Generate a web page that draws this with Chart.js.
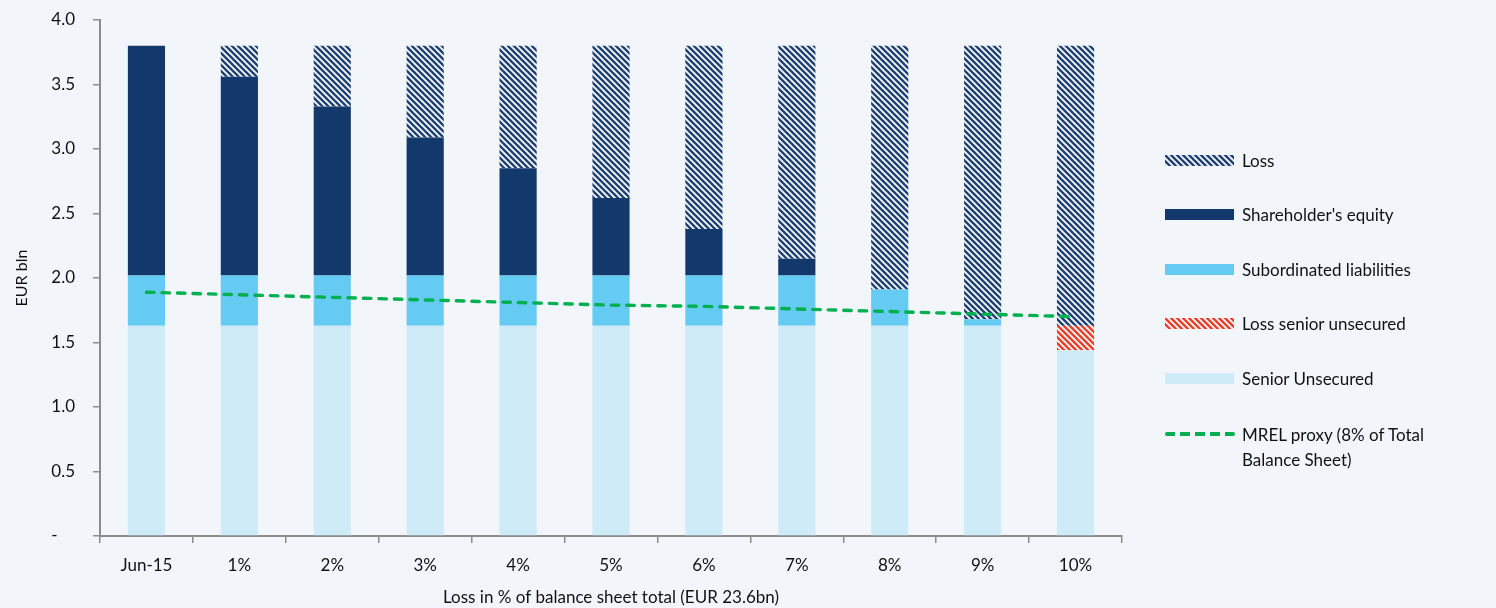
<!DOCTYPE html>
<html>
<head>
<meta charset="utf-8">
<script src="https://cdn.jsdelivr.net/npm/chart.js@4/dist/chart.umd.min.js"></script>
<style>
    html, body { margin: 0; padding: 0; background: #f2f6fa; }
    #wrap { position: relative; width: 1496px; height: 608px; }
    #legend { position: absolute; left: 1165px; top: 0; font-family: Lato, sans-serif; font-size: 17px; color: #111; }
    .item { position: absolute; left: 0; width: 330px; display: flex; align-items: center; }
    .swatch { width: 69px; height: 11px; margin-right: 8px; flex: none; }
    .dash { width: 70px; height: 3.5px; margin-right: 7px; flex: none;
            background: repeating-linear-gradient(90deg, #00b050 0 10px, transparent 10px 15px); border-radius: 2px; }
</style>
</head>
<body>
<div id="wrap">
    <canvas id="chart" width="1496" height="608"></canvas>
    <div id="legend"></div>
</div>
<script>
// data (EUR bln)
const categories = ['Jun-15', '1%', '2%', '3%', '4%', '5%', '6%', '7%', '8%', '9%', '10%'];
const seniorUnsecured = [1.63, 1.63, 1.63, 1.63, 1.63, 1.63, 1.63, 1.63, 1.63, 1.63, 1.44];
const lossSeniorUnsecured = [0, 0, 0, 0, 0, 0, 0, 0, 0, 0, 0.19];
const subordinated = [0.39, 0.39, 0.39, 0.39, 0.39, 0.39, 0.39, 0.39, 0.28, 0.05, 0];
const equity = [1.78, 1.54, 1.31, 1.07, 0.83, 0.60, 0.36, 0.13, 0, 0, 0];
const loss = [0, 0.24, 0.47, 0.71, 0.95, 1.18, 1.42, 1.65, 1.89, 2.12, 2.17];
const mrel = [1.89, 1.87, 1.85, 1.83, 1.81, 1.79, 1.78, 1.76, 1.74, 1.72, 1.70];

const yTicks = [0, 0.5, 1.0, 1.5, 2.0, 2.5, 3.0, 3.5, 4.0];

// hatch tile, stripes running top-left to bottom-right
function hatchCanvas(color) {
    const s = 6;
    const c = document.createElement('canvas');
    c.width = s; c.height = s;
    const g = c.getContext('2d');
    g.fillStyle = '#ffffff';
    g.fillRect(0, 0, s, s);
    g.strokeStyle = color;
    g.lineWidth = 2.5;
    for (const k of [-s, 0, s]) {
        g.beginPath();
        g.moveTo(k - 1, -1);
        g.lineTo(k + s + 1, s + 1);
        g.stroke();
    }
    return c;
}

const ctx = document.getElementById('chart').getContext('2d');
const lossTile = hatchCanvas('#1f4274');
const redTile = hatchCanvas('#e8402c');
const lossFill = ctx.createPattern(lossTile, 'repeat');
const redFill = ctx.createPattern(redTile, 'repeat');

const axisGray = '#8c8c8c';
const font = { family: 'Lato, sans-serif', size: 17 };

const barDefaults = { type: 'bar', stack: 'bars', order: 1, borderWidth: 0, barPercentage: 0.4, categoryPercentage: 1.0 };

new Chart(ctx, {
    data: {
        labels: categories,
        datasets: [
            { ...barDefaults, label: 'Senior Unsecured', data: seniorUnsecured, backgroundColor: '#cfebf7' },
            { ...barDefaults, label: 'Loss senior unsecured', data: lossSeniorUnsecured, backgroundColor: redFill },
            { ...barDefaults, label: 'Subordinated liabilities', data: subordinated, backgroundColor: '#66cbf2' },
            { ...barDefaults, label: "Shareholder's equity", data: equity, backgroundColor: '#13386b' },
            { ...barDefaults, label: 'Loss', data: loss, backgroundColor: lossFill },
            {
                type: 'line', label: 'MREL proxy (8% of Total Balance Sheet)', data: mrel, stack: 'line', order: 0,
                borderColor: '#00b050', borderWidth: 3.4, borderDash: [7.5, 8], borderCapStyle: 'round',
                pointRadius: 0, fill: false, tension: 0
            }
        ]
    },
    options: {
        responsive: false,
        animation: false,
        layout: { padding: { left: 0, right: 374, top: 20, bottom: 0 } },
        plugins: { legend: { display: false }, tooltip: { enabled: false } },
        scales: {
            x: {
                stacked: true,
                grid: { drawOnChartArea: false, tickLength: 7, color: axisGray, lineWidth: 1.5, offset: true },
                border: { color: axisGray, width: 2 },
                ticks: { color: '#111', font, padding: 12, maxRotation: 0 },
                title: { display: true, text: 'Loss in % of balance sheet total (EUR 23.6bn)', color: '#111', font, padding: { top: 0, bottom: 0 } },
                afterFit: (scale) => { scale.height = 72; }
            },
            y: {
                stacked: true,
                min: 0,
                max: 4,
                afterBuildTicks: (scale) => { scale.ticks = yTicks.map(v => ({ value: v })); },
                grid: { drawOnChartArea: false, tickLength: 7, color: axisGray, lineWidth: 1.5 },
                border: { color: axisGray, width: 2 },
                ticks: {
                    color: '#111', font, padding: 18,
                    callback: (v) => v === 0 ? '-    ' : Number(v).toFixed(1)
                },
                title: { display: true, text: 'EUR bln', color: '#111', font: { family: 'Lato, sans-serif', size: 16 }, padding: { top: 12, bottom: 0 } },
                afterFit: (scale) => {
                    scale.width = 100;
                    scale.paddingTop = 0;
                    scale.paddingBottom = 0;
                }
            }
        }
    }
});

// legend on the right, same look as the source
const legendItems = [
    { text: 'Loss', swatch: lossTile.toDataURL() },
    { text: "Shareholder's equity", color: '#13386b' },
    { text: 'Subordinated liabilities', color: '#66cbf2' },
    { text: 'Loss senior unsecured', swatch: redTile.toDataURL() },
    { text: 'Senior Unsecured', color: '#cfebf7' },
    { text: 'MREL proxy (8% of Total<br>Balance Sheet)', line: true }
];
const legend = document.getElementById('legend');
legendItems.forEach((it, i) => {
    const row = document.createElement('div');
    row.className = 'item';
    const cy = 160 + i * 54.5;
    let mark;
    if (it.line) {
        mark = '<div class="dash" style="margin-top:-25px"></div>';
        row.style.top = (cy - 11) + 'px';
        row.style.lineHeight = '25px';
    } else {
        const bg = it.swatch ? `background-image:url(${it.swatch})` : `background:${it.color}`;
        mark = `<div class="swatch" style="${bg}"></div>`;
        row.style.top = (cy - 11) + 'px';
        row.style.height = '22px';
    }
    row.innerHTML = mark + `<span>${it.text}</span>`;
    legend.appendChild(row);
});
</script>
</body>
</html>
